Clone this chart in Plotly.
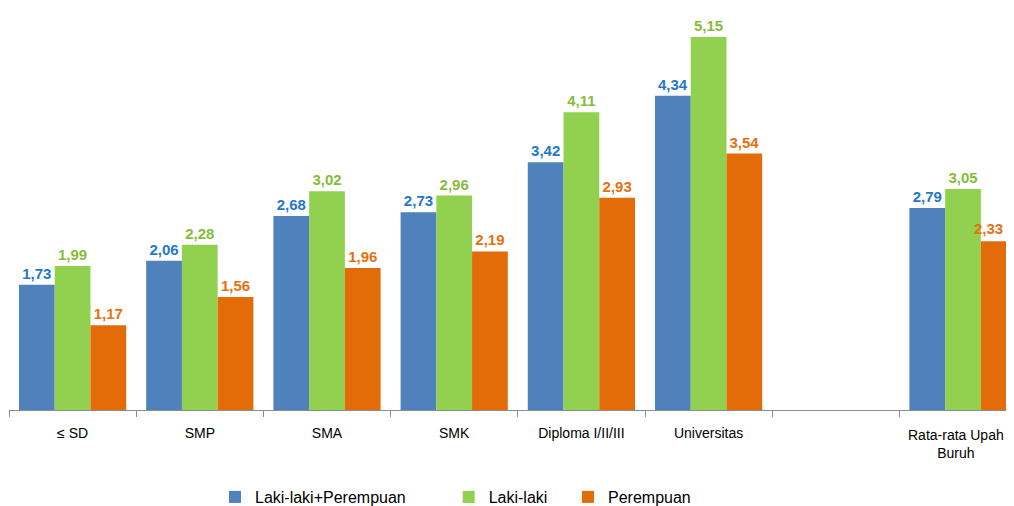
import plotly.graph_objects as go

categories = ["≤ SD", "SMP", "SMA", "SMK", "Diploma I/II/III", "Universitas", "gap", "avg"]
tick_labels = ["≤ SD", "SMP", "SMA", "SMK", "Diploma I/II/III", "Universitas", "", ""]
last_label = "Rata-rata Upah<br>Buruh"
total = [1.73, 2.06, 2.68, 2.73, 3.42, 4.34, None, 2.79]
male = [1.99, 2.28, 3.02, 2.96, 4.11, 5.15, None, 3.05]
female = [1.17, 1.56, 1.96, 2.19, 2.93, 3.54, None, 2.33]

FONT = "Liberation Sans"


def fmt(v):
    return "" if v is None else f"{v:.2f}".replace(".", ",")


series = [
    ("Laki-laki+Perempuan", total, "#4F81BD", "#2478C9", "legend"),
    ("Laki-laki", male, "#92D050", "#86BC3A", "legend2"),
    ("Perempuan", female, "#E36C09", "#E8700F", "legend3"),
]

fig = go.Figure()
for name, vals, color, tcolor, lg in series:
    texts = [fmt(v) for v in vals]
    if name == "Perempuan":
        texts[-1] = ""  # drawn as an annotation so it stays inside the page
    fig.add_trace(
        go.Bar(
            x=categories,
            y=vals,
            name=name,
            marker=dict(color=color, line=dict(width=0)),
            text=texts,
            textposition="outside",
            textfont=dict(color=tcolor, size=15, family=FONT, weight="bold"),
            cliponaxis=False,
            legend=lg,
        )
    )

fig.add_annotation(
    x=categories[-1], y=female[-1], xref="x", yref="y",
    text=fmt(female[-1]), showarrow=False,
    xanchor="right", yanchor="bottom", xshift=42, yshift=2,
    font=dict(color="#E8700F", size=15, family=FONT, weight="bold"),
)
fig.add_annotation(
    x=categories[-1], y=0, xref="x", yref="paper",
    text=last_label, showarrow=False,
    xanchor="center", yanchor="top", xshift=-7, yshift=-15,
    font=dict(size=14, color="#000", family=FONT),
)

leg = dict(
    orientation="h",
    yanchor="middle",
    y=-0.2175,
    xanchor="left",
    font=dict(size=16, family=FONT, color="#000"),
    bgcolor="rgba(0,0,0,0)",
    itemwidth=30,
)

fig.update_layout(
    width=998,
    height=506,
    margin=dict(l=1, r=0, t=2, b=104, autoexpand=False),
    plot_bgcolor="white",
    paper_bgcolor="white",
    barmode="group",
    bargap=0.157,
    bargroupgap=0,
    showlegend=True,
    legend=dict(leg, x=0.2066),
    legend2=dict(leg, x=0.441),
    legend3=dict(leg, x=0.5607),
    font=dict(family=FONT),
)
fig.update_xaxes(
    range=[-0.5, -0.5 + 997 / 127.2],
    tickvals=categories,
    ticktext=tick_labels,
    showline=True,
    linecolor="#8C8C8C",
    linewidth=1,
    ticks="outside",
    tickson="boundaries",
    ticklen=6,
    tickcolor="#8C8C8C",
    ticklabelstandoff=10,
    tickfont=dict(size=14, color="#000", family=FONT),
    showgrid=False,
)
fig.update_yaxes(range=[0, 5.523], visible=False, showgrid=False)

fig.write_html("out.html")
